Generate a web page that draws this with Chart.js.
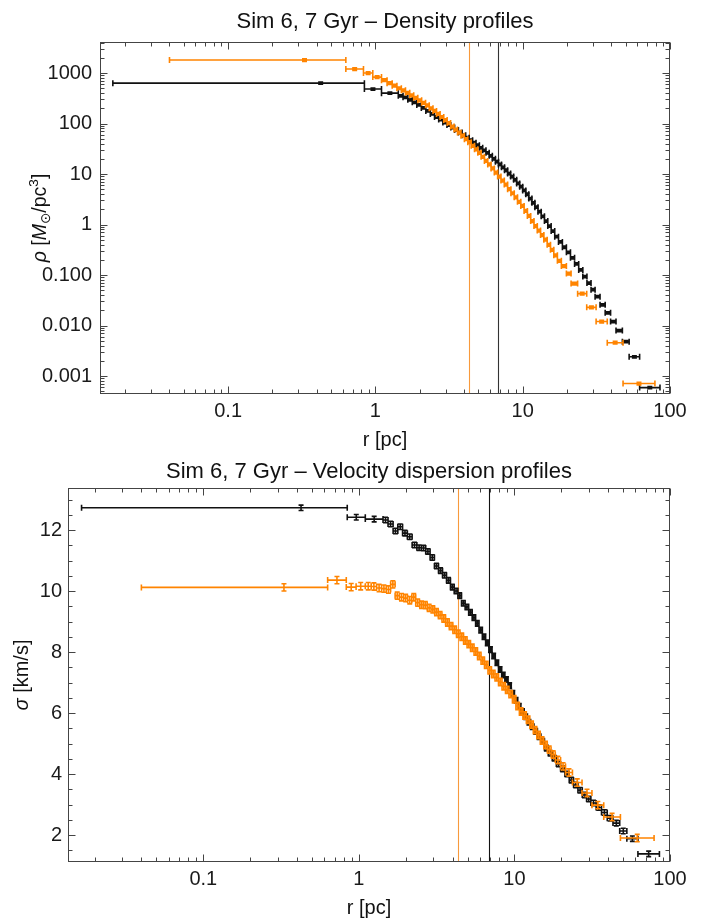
<!DOCTYPE html>
<html>
<head>
<meta charset="utf-8">
<script src="https://cdn.jsdelivr.net/npm/chart.js@4.4.1/dist/chart.umd.min.js"></script>
<style>
html,body{margin:0;padding:0;background:#fff;}
#wrap{position:relative;width:702px;height:922px;overflow:hidden;}
canvas{position:absolute;left:0;}
</style>
</head>
<body>
<div id="wrap">
<canvas id="c1" width="702" height="455" style="top:0px"></canvas>
<canvas id="c2" width="702" height="467" style="top:455px"></canvas>
</div>
<script>
// ---------------- DATA ----------------
// Radial bin edges [pc]
const blackEdges = [0.0165, 0.842, 1.10, 1.43, 1.54, 1.66, 1.78, 1.91, 2.05, 2.20, 2.36, 2.52, 2.69, 2.87, 3.06, 3.25, 3.45, 3.66, 3.88, 4.10, 4.33, 4.57, 4.82, 5.08, 5.35, 5.63, 5.92, 6.22, 6.53, 6.85, 7.18, 7.53, 7.90, 8.28, 8.68, 9.10, 9.54, 10.0, 10.5, 11.0, 11.55, 12.1, 12.7, 13.35, 14.05, 14.8, 15.6, 16.5, 17.5, 18.6, 19.8, 21.1, 22.5, 24.0, 25.6, 27.3, 29.1, 31.0, 33.5, 36.3, 39.5, 43.0, 47.5, 52.8, 62.2, 85.5];
const orangeEdges = [0.040, 0.630, 0.830, 0.960, 1.10, 1.20, 1.30, 1.40, 1.50, 1.60, 1.71, 1.82, 1.94, 2.06, 2.19, 2.32, 2.46, 2.60, 2.75, 2.91, 3.07, 3.24, 3.42, 3.61, 3.81, 4.02, 4.24, 4.47, 4.71, 4.96, 5.22, 5.50, 5.79, 6.10, 6.42, 6.76, 7.12, 7.50, 7.90, 8.32, 8.76, 9.22, 9.71, 10.22, 10.76, 11.33, 11.93, 12.56, 13.22, 13.92, 14.66, 15.44, 16.26, 17.2, 18.3, 19.8, 21.3, 23.6, 27.2, 31.5, 37.5, 48.0, 79.0];
// marker radius of the innermost (wide) bin
const blackFirstMean = 0.425;
const orangeFirstMean = 0.33;

// Density [Msun/pc^3]
const blackRho = [631, 482, 400, 355, 331, 295, 263, 234, 204, 178, 155, 135, 120, 105, 93.3, 83.2, 74.1, 66.1, 58.9, 52.5, 46.8, 41.7, 37.2, 33.1, 29.5, 26.3, 22.9, 20.0, 17.6, 15.5, 13.6, 11.9, 10.2, 8.91, 7.67, 6.53, 5.62, 4.73, 3.98, 3.27, 2.69, 2.21, 1.80, 1.45, 1.17, 0.933, 0.741, 0.575, 0.452, 0.355, 0.282, 0.219, 0.166, 0.126, 0.0933, 0.0692, 0.0513, 0.0372, 0.0257, 0.0178, 0.0120, 0.00794, 0.00479, 0.00240, 0.000589];
const orangeRho = [1811, 1202, 1000, 832, 724, 631, 562, 501, 457, 407, 363, 324, 288, 257, 229, 200, 178, 155, 135, 117, 102, 87.1, 75.9, 66.1, 57.5, 49.0, 42.7, 36.3, 30.9, 26.3, 21.9, 18.2, 15.5, 12.9, 10.7, 8.91, 7.41, 6.17, 5.01, 4.17, 3.47, 2.82, 2.34, 1.86, 1.48, 1.17, 0.933, 0.759, 0.617, 0.501, 0.398, 0.316, 0.245, 0.191, 0.151, 0.107, 0.0676, 0.0427, 0.0229, 0.0120, 0.00457, 0.000708];
const blackRhoRelErr = 0.05;
const orangeRhoRelErr = 0.06;

// Velocity dispersion [km/s]
const blackSigma = [12.73, 12.42, 12.36, 12.33, 12.20, 11.97, 12.11, 11.90, 11.78, 11.51, 11.42, 11.41, 11.30, 11.10, 10.82, 10.67, 10.52, 10.35, 10.13, 10.00, 9.85, 9.60, 9.48, 9.30, 9.13, 8.94, 8.72, 8.50, 8.30, 8.08, 7.87, 7.65, 7.43, 7.25, 7.10, 6.90, 6.65, 6.42, 6.22, 6.05, 5.88, 5.70, 5.55, 5.40, 5.22, 5.07, 4.85, 4.68, 4.52, 4.33, 4.17, 4.00, 3.80, 3.64, 3.47, 3.31, 3.18, 3.05, 2.90, 2.74, 2.55, 2.39, 2.13, 1.88, 1.38];
const orangeSigma = [10.12, 10.36, 10.13, 10.16, 10.16, 10.15, 10.10, 10.08, 10.05, 10.22, 9.85, 9.80, 9.77, 9.70, 9.80, 9.62, 9.55, 9.54, 9.45, 9.40, 9.31, 9.21, 9.10, 8.97, 8.85, 8.73, 8.60, 8.50, 8.38, 8.26, 8.14, 8.02, 7.87, 7.72, 7.58, 7.40, 7.28, 7.17, 7.02, 6.88, 6.76, 6.62, 6.45, 6.23, 6.05, 5.92, 5.78, 5.62, 5.44, 5.28, 5.10, 4.95, 4.80, 4.64, 4.46, 4.25, 4.05, 3.72, 3.38, 2.98, 2.59, 1.90];
const blackSigmaErr = 0.09;
const orangeSigmaErr = 0.12;

// Reference radii (vertical lines) [pc]
const rLineBlack = 6.85;
const rLineOrange = 4.35;

// Axes
const xRange = [0.0135, 100];
const rhoRange = [0.00044, 4120];
const sigmaRange = [1.115, 13.38];
const xTicks = [0.1, 1, 10, 100];
const xTickLabels = ['0.1', '1', '10', '100'];
const rhoTicks = [0.001, 0.01, 0.1, 1, 10, 100, 1000];
const rhoTickLabels = ['0.001', '0.010', '0.100', '1', '10', '100', '1000'];
const sigmaTicks = [2, 4, 6, 8, 10, 12];
const sigmaTickLabels = ['2', '4', '6', '8', '10', '12'];

const titleTop = 'Sim 6, 7 Gyr – Density profiles';
const titleBottom = 'Sim 6, 7 Gyr – Velocity dispersion profiles';
const xTitle = 'r [pc]';

// ---------------- STYLE ----------------
const FONT = "'Liberation Sans', Arial, 'DejaVu Sans', sans-serif";
const BLACK = '#111111';
const ORANGE = '#ff8400';
const ORANGE_LINE = '#f89a3c';
const FRAME = '#444444';
Chart.defaults.font.family = FONT;
Chart.defaults.color = '#1a1a1a';

// ---------------- helpers ----------------
function buildPoints(edges, vals, firstMean, errFn) {
  return vals.map((v, i) => {
    const lo = edges[i], hi = edges[i + 1];
    const x = i === 0 ? firstMean : Math.sqrt(lo * hi);
    const e = errFn(v);
    return {x: x, y: v, xMin: lo, xMax: hi, yMin: e[0], yMax: e[1]};
  });
}
function logMinor(min, max) {
  const out = [];
  for (let e = Math.floor(Math.log10(min)); e <= Math.ceil(Math.log10(max)); e++) {
    for (let k = 2; k <= 9; k++) {
      const v = k * Math.pow(10, e);
      if (v >= min && v <= max) out.push(v);
    }
  }
  return out;
}
function linMinor(min, max, step, majorStep) {
  const out = [];
  for (let v = Math.ceil(min / step) * step; v <= max + 1e-9; v += step) {
    const r = v / majorStep;
    if (Math.abs(r - Math.round(r)) > 1e-6) out.push(v);
  }
  return out;
}

const overlay = {
  id: 'overlay',
  beforeDatasetsDraw(chart, _a, o) {
    const ctx = chart.ctx, ca = chart.chartArea, xs = chart.scales.x;
    ctx.save();
    ctx.lineWidth = 1.1;
    o.vlines.forEach(l => {
      const px = Math.round(xs.getPixelForValue(l.r)) + 0.5;
      ctx.strokeStyle = l.color;
      ctx.beginPath(); ctx.moveTo(px, ca.top); ctx.lineTo(px, ca.bottom); ctx.stroke();
    });
    ctx.restore();
  },
  afterDatasetsDraw(chart, _a, o) {
    const ctx = chart.ctx, ca = chart.chartArea, xs = chart.scales.x, ys = chart.scales.y;
    // error bars
    ctx.save();
    ctx.beginPath(); ctx.rect(ca.left, ca.top, ca.right - ca.left, ca.bottom - ca.top); ctx.clip();
    chart.data.datasets.forEach(ds => {
      ctx.strokeStyle = ds.borderColor; ctx.lineWidth = 1.6; ctx.lineCap = 'butt';
      ctx.beginPath();
      ds.data.forEach(p => {
        const x0 = xs.getPixelForValue(p.xMin), x1 = xs.getPixelForValue(p.xMax), xc = xs.getPixelForValue(p.x);
        const yc = ys.getPixelForValue(p.y), y0 = ys.getPixelForValue(p.yMin), y1 = ys.getPixelForValue(p.yMax);
        ctx.moveTo(x0, yc); ctx.lineTo(x1, yc);
        ctx.moveTo(x0, yc - 3); ctx.lineTo(x0, yc + 3);
        ctx.moveTo(x1, yc - 3); ctx.lineTo(x1, yc + 3);
        ctx.moveTo(xc, y0); ctx.lineTo(xc, y1);
        ctx.moveTo(xc - 2.5, y0); ctx.lineTo(xc + 2.5, y0);
        ctx.moveTo(xc - 2.5, y1); ctx.lineTo(xc + 2.5, y1);
      });
      ctx.stroke();
    });
    ctx.restore();

    // frame and inward ticks on all four sides
    ctx.save();
    ctx.strokeStyle = FRAME; ctx.lineWidth = 1;
    const L = Math.round(ca.left) + 0.5, R = Math.round(ca.right) - 0.5, T = Math.round(ca.top) + 0.5, B = Math.round(ca.bottom) - 0.5;
    ctx.strokeRect(L, T, R - L, B - T);
    ctx.beginPath();
    const xt = (vals, len) => vals.forEach(v => {
      const px = Math.round(xs.getPixelForValue(v)) + 0.5;
      ctx.moveTo(px, B); ctx.lineTo(px, B - len);
      ctx.moveTo(px, T); ctx.lineTo(px, T + len);
    });
    const yt = (vals, len) => vals.forEach(v => {
      const py = Math.round(ys.getPixelForValue(v)) + 0.5;
      ctx.moveTo(L, py); ctx.lineTo(L + len, py);
      ctx.moveTo(R, py); ctx.lineTo(R - len, py);
    });
    xt(o.xMajor, 7); xt(o.xMinor, 4);
    yt(o.yMajor, 7); yt(o.yMinor, 4);
    ctx.stroke();
    ctx.restore();

    // plot title, centred over the plot frame
    ctx.save();
    ctx.fillStyle = '#111';
    ctx.font = o.title.size + 'px ' + FONT;
    ctx.textAlign = 'center'; ctx.textBaseline = 'middle';
    ctx.fillText(o.title.text, (ca.left + ca.right) / 2, o.title.y);
    ctx.restore();

    // rich y-axis title (rotated)
    const t = o.yTitle;
    ctx.save();
    ctx.translate(t.cx, t.cy);
    ctx.rotate(-Math.PI / 2);
    ctx.fillStyle = '#111';
    ctx.textBaseline = 'alphabetic';
    let total = 0;
    t.parts.forEach(p => {
      ctx.font = (p.italic ? 'italic ' : '') + (t.size * (p.scale || 1)).toFixed(1) + 'px ' + FONT;
      p.w = ctx.measureText(p.t).width; total += p.w;
    });
    let x = -total / 2;
    const base = 0.35 * t.size;
    t.parts.forEach(p => {
      ctx.font = (p.italic ? 'italic ' : '') + (t.size * (p.scale || 1)).toFixed(1) + 'px ' + FONT;
      ctx.fillText(p.t, x, base + (p.dy || 0) * t.size);
      x += p.w;
    });
    ctx.restore();
  }
};
Chart.register(overlay);

function xAxis(height, titlePadBottom) {
  return {
    type: 'logarithmic', min: xRange[0], max: xRange[1],
    grid: {display: false, drawTicks: false}, border: {display: false},
    ticks: {autoSkip: false, maxRotation: 0, minRotation: 0, padding: 5, font: {size: 20}, color: '#1a1a1a',
      callback: (v, i) => xTickLabels[i]},
    afterBuildTicks: s => { s.ticks = xTicks.map(v => ({value: v})); },
    afterFit: s => { s.height = height; },
    title: {display: true, text: xTitle, font: {size: 20}, color: '#111', padding: {top: 0, bottom: titlePadBottom}}
  };
}

// ---------------- TOP: density ----------------
const blackRhoPts = buildPoints(blackEdges, blackRho, blackFirstMean, v => [v * (1 - blackRhoRelErr), v * (1 + blackRhoRelErr)]);
const orangeRhoPts = buildPoints(orangeEdges, orangeRho, orangeFirstMean, v => [v * (1 - orangeRhoRelErr), v * (1 + orangeRhoRelErr)]);

new Chart(document.getElementById('c1'), {
  type: 'scatter',
  data: {datasets: [
    {label: 'black', data: blackRhoPts, borderColor: BLACK, backgroundColor: BLACK, pointRadius: 0, showLine: false},
    {label: 'orange', data: orangeRhoPts, borderColor: ORANGE, backgroundColor: ORANGE, pointRadius: 0, showLine: false}
  ]},
  options: {
    responsive: false, animation: false, events: [],
    layout: {padding: {left: 0, right: 32, top: 42, bottom: 0}},
    plugins: {
      legend: {display: false}, tooltip: {enabled: false}, title: {display: false},
      overlay: {
        title: {text: titleTop, size: 22, y: 21.5},
        vlines: [{r: rLineOrange, color: ORANGE_LINE}, {r: rLineBlack, color: '#333'}],
        xMajor: xTicks, xMinor: logMinor(xRange[0], xRange[1]),
        yMajor: rhoTicks, yMinor: logMinor(rhoRange[0], rhoRange[1]),
        yTitle: {cx: 39, cy: 218, size: 19.5, parts: [
          {t: 'ρ', italic: true}, {t: ' ['}, {t: 'M', italic: true}, {t: '⊙', scale: 0.7, dy: 0.22},
          {t: '/pc'}, {t: '3', scale: 0.7, dy: -0.42}, {t: ']'}
        ]}
      }
    },
    scales: {
      x: xAxis(61, 3),
      y: {
        type: 'logarithmic', min: rhoRange[0], max: rhoRange[1],
        grid: {display: false, drawTicks: false}, border: {display: false},
        ticks: {autoSkip: false, padding: 8, font: {size: 20}, color: '#1a1a1a', callback: (v, i) => rhoTickLabels[i]},
        afterBuildTicks: s => { s.ticks = rhoTicks.map(v => ({value: v})); },
        afterFit: s => { s.width = 100; },
        title: {display: false}
      }
    }
  }
});

// ---------------- BOTTOM: velocity dispersion ----------------
const blackSigPts = buildPoints(blackEdges, blackSigma, blackFirstMean, v => [v - blackSigmaErr, v + blackSigmaErr]);
const orangeSigPts = buildPoints(orangeEdges, orangeSigma, orangeFirstMean, v => [v - orangeSigmaErr, v + orangeSigmaErr]);

new Chart(document.getElementById('c2'), {
  type: 'scatter',
  data: {datasets: [
    {label: 'black', data: blackSigPts, borderColor: BLACK, backgroundColor: BLACK, pointRadius: 0, showLine: false},
    {label: 'orange', data: orangeSigPts, borderColor: ORANGE, backgroundColor: ORANGE, pointRadius: 0, showLine: false}
  ]},
  options: {
    responsive: false, animation: false, events: [],
    layout: {padding: {left: 0, right: 32, top: 33, bottom: 0}},
    plugins: {
      legend: {display: false}, tooltip: {enabled: false}, title: {display: false},
      overlay: {
        title: {text: titleBottom, size: 22, y: 16.5},
        vlines: [{r: rLineOrange, color: ORANGE_LINE}, {r: rLineBlack, color: '#111'}],
        xMajor: xTicks, xMinor: logMinor(xRange[0], xRange[1]),
        yMajor: sigmaTicks, yMinor: linMinor(sigmaRange[0], sigmaRange[1], 0.5, 2),
        yTitle: {cx: 21, cy: 220, size: 20, parts: [
          {t: 'σ', italic: true}, {t: ' [km/s]'}
        ]}
      }
    },
    scales: {
      x: xAxis(60, 2),
      y: {
        type: 'linear', min: sigmaRange[0], max: sigmaRange[1],
        grid: {display: false, drawTicks: false}, border: {display: false},
        ticks: {autoSkip: false, padding: 6, font: {size: 20}, color: '#1a1a1a', callback: (v, i) => sigmaTickLabels[i]},
        afterBuildTicks: s => { s.ticks = sigmaTicks.map(v => ({value: v})); },
        afterFit: s => { s.width = 68; },
        title: {display: false}
      }
    }
  }
});
</script>
</body>
</html>
